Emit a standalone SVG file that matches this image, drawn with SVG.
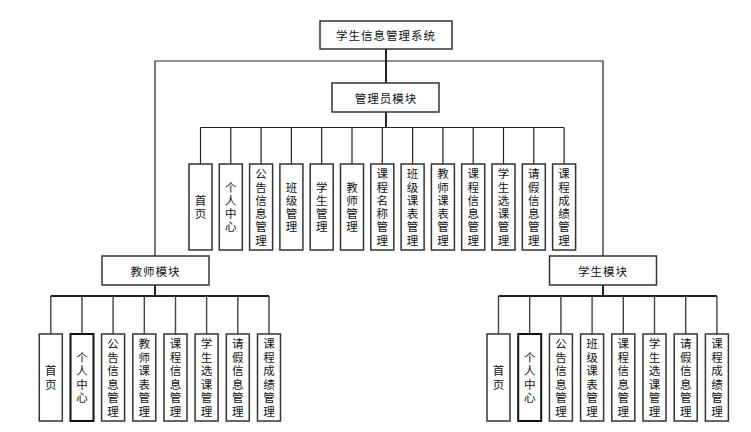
<svg xmlns="http://www.w3.org/2000/svg" width="751" height="432" viewBox="0 0 751 432">
<style>
.b{fill:#fff;stroke:#333;stroke-width:1.5}
.v{font-family:"Noto Sans CJK SC","Liberation Sans",sans-serif;font-size:11.5px;fill:#111;text-anchor:middle;writing-mode:vertical-rl;letter-spacing:1.8px}
.w{font-family:"Noto Sans CJK SC","Liberation Sans",sans-serif;font-size:11.5px;fill:#111;text-anchor:middle;writing-mode:vertical-rl;letter-spacing:2px}
.h{font-family:"Noto Sans CJK SC","Liberation Sans",sans-serif;font-size:11.5px;fill:#111;text-anchor:middle;dominant-baseline:central;letter-spacing:1px}
.c{fill:none;stroke:#222;stroke-width:1.2}
.k{fill:none;stroke:#222;stroke-width:2}
.g{fill:none;stroke:#444;stroke-width:1.4}
</style>
<rect width="751" height="432" fill="#fff"/>
<g id="connectors">
<path class="c" d="M155,256V61H603V256"/>
<path class="k" d="M386,49V83"/>
<path class="k" d="M386,112V127.5"/>
<path class="c" d="M200.5,127.5H564.1"/>
<path class="c" d="M200.5,127.5V164M230.8,127.5V164M261.1,127.5V164M291.4,127.5V164M321.7,127.5V164M352,127.5V164M382.3,127.5V164M412.6,127.5V164M442.9,127.5V164M473.2,127.5V164M503.5,127.5V164M533.8,127.5V164M564.1,127.5V164"/>
<path class="k" d="M155,285V296"/>
<path class="k" d="M50.8,296H269"/>
<path class="g" d="M50.8,296V334M82,296V334M113.1,296V334M144.3,296V334M175.5,296V334M206.6,296V334M237.8,296V334M269,296V334"/>
<path class="k" d="M603,285V296"/>
<path class="k" d="M498.5,296H716.9"/>
<path class="g" d="M498.5,296V334M529.7,296V334M560.9,296V334M592.1,296V334M623.3,296V334M654.5,296V334M685.7,296V334M716.9,296V334"/>
</g>
<g id="root"><rect class="b" x="320" y="21" width="132" height="28"/><text class="h" x="386" y="35">学生信息管理系统</text></g>
<g id="admin"><rect class="b" x="332" y="83" width="107" height="29"/><text class="h" x="386" y="97.5">管理员模块</text></g>
<g id="teacher"><rect class="b" x="102" y="256" width="107" height="29"/><text class="h" x="155.5" y="270.5">教师模块</text></g>
<g id="student"><rect class="b" x="549.5" y="256" width="107" height="29"/><text class="h" x="603" y="270.5">学生模块</text></g>

<g id="a1"><rect class="b" x="189" y="164" width="23" height="86"/><text class="v" x="200.5" y="208">首页</text></g>
<g id="a2"><rect class="b" x="219.3" y="164" width="23" height="86"/><text class="v" x="230.8" y="208">个人中心</text></g>
<g id="a3"><rect class="b" x="249.6" y="164" width="23" height="86"/><text class="v" x="261.1" y="208">公告信息管理</text></g>
<g id="a4"><rect class="b" x="279.9" y="164" width="23" height="86"/><text class="v" x="291.4" y="208">班级管理</text></g>
<g id="a5"><rect class="b" x="310.2" y="164" width="23" height="86"/><text class="v" x="321.7" y="208">学生管理</text></g>
<g id="a6"><rect class="b" x="340.5" y="164" width="23" height="86"/><text class="v" x="352" y="208">教师管理</text></g>
<g id="a7"><rect class="b" x="370.8" y="164" width="23" height="86"/><text class="v" x="382.3" y="208">课程名称管理</text></g>
<g id="a8"><rect class="b" x="401.1" y="164" width="23" height="86"/><text class="v" x="412.6" y="208">班级课表管理</text></g>
<g id="a9"><rect class="b" x="431.4" y="164" width="23" height="86"/><text class="v" x="442.9" y="208">教师课表管理</text></g>
<g id="a10"><rect class="b" x="461.7" y="164" width="23" height="86"/><text class="v" x="473.2" y="208">课程信息管理</text></g>
<g id="a11"><rect class="b" x="492" y="164" width="23" height="86"/><text class="v" x="503.5" y="208">学生选课管理</text></g>
<g id="a12"><rect class="b" x="522.3" y="164" width="23" height="86"/><text class="v" x="533.8" y="208">请假信息管理</text></g>
<g id="a13"><rect class="b" x="552.6" y="164" width="23" height="86"/><text class="v" x="564.1" y="208">课程成绩管理</text></g>

<g id="t1"><rect class="b" x="39.3" y="334" width="23" height="87"/><text class="w" x="50.8" y="378.5">首页</text></g>
<g id="t2"><rect class="b" x="70.5" y="334" width="23" height="87" style="stroke:#111;stroke-width:2"/><text class="w" x="82" y="378.5">个人中心</text></g>
<g id="t3"><rect class="b" x="101.6" y="334" width="23" height="87"/><text class="w" x="113.1" y="378.5">公告信息管理</text></g>
<g id="t4"><rect class="b" x="132.8" y="334" width="23" height="87"/><text class="w" x="144.3" y="378.5">教师课表管理</text></g>
<g id="t5"><rect class="b" x="164" y="334" width="23" height="87"/><text class="w" x="175.5" y="378.5">课程信息管理</text></g>
<g id="t6"><rect class="b" x="195.1" y="334" width="23" height="87"/><text class="w" x="206.6" y="378.5">学生选课管理</text></g>
<g id="t7"><rect class="b" x="226.3" y="334" width="23" height="87"/><text class="w" x="237.8" y="378.5">请假信息管理</text></g>
<g id="t8"><rect class="b" x="257.5" y="334" width="23" height="87"/><text class="w" x="269" y="378.5">课程成绩管理</text></g>

<g id="s1"><rect class="b" x="487" y="334" width="23" height="87"/><text class="w" x="498.5" y="378.5">首页</text></g>
<g id="s2"><rect class="b" x="518.2" y="334" width="23" height="87" style="stroke:#111;stroke-width:2"/><text class="w" x="529.7" y="378.5">个人中心</text></g>
<g id="s3"><rect class="b" x="549.4" y="334" width="23" height="87"/><text class="w" x="560.9" y="378.5">公告信息管理</text></g>
<g id="s4"><rect class="b" x="580.6" y="334" width="23" height="87"/><text class="w" x="592.1" y="378.5">班级课表管理</text></g>
<g id="s5"><rect class="b" x="611.8" y="334" width="23" height="87"/><text class="w" x="623.3" y="378.5">课程信息管理</text></g>
<g id="s6"><rect class="b" x="643" y="334" width="23" height="87"/><text class="w" x="654.5" y="378.5">学生选课管理</text></g>
<g id="s7"><rect class="b" x="674.2" y="334" width="23" height="87"/><text class="w" x="685.7" y="378.5">请假信息管理</text></g>
<g id="s8"><rect class="b" x="705.4" y="334" width="23" height="87"/><text class="w" x="716.9" y="378.5">课程成绩管理</text></g>
</svg>
